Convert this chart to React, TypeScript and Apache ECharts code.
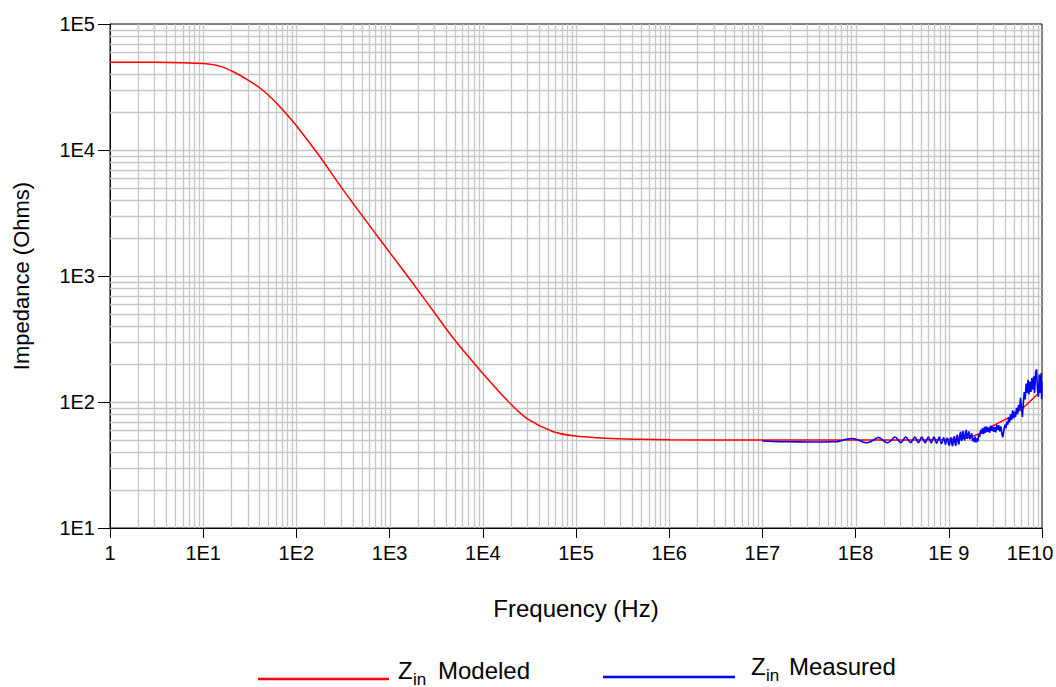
import React, { useEffect, useRef } from "react";
import * as echarts from "echarts";

const xTickLabels = ["1", "1E1", "1E2", "1E3", "1E4", "1E5", "1E6", "1E7", "1E8", "1E 9", "1E10"];
const yTickLabels = ["1E1", "1E2", "1E3", "1E4", "1E5"];

const xTitle = "Frequency (Hz)";
const yTitle = "Impedance (Ohms)";

// Z_in Modeled: [frequency Hz, impedance Ohms]
const modeled: [number, number][] = [
  [1, 49700], [3, 49600], [6, 49300], [10, 48500], [15, 46300], [21, 41800],
  [30, 36000], [41, 30900], [55, 25500], [72, 20700], [100, 15600], [180, 8800],
  [316, 4850], [1000, 1540], [1730, 900], [3160, 490], [5000, 310], [9330, 179],
  [1.96e4, 97.7], [2.96e4, 74.3], [5.7e4, 58.1], [9.35e4, 54.0], [2.13e5, 51.5],
  [4.86e5, 50.6], [1e6, 50.2], [1e7, 50.0], [1e8, 50.0], [1e9, 50.5],
  [1.5e9, 51.8], [2e9, 55], [2.8e9, 63], [3.5e9, 69], [5e9, 79], [7e9, 97], [1e10, 125],
];

// Z_in Measured, low-frequency part (smooth ripple)
const measuredLow: [number, number][] = [
  [1.0e7, 49.0], [1.3e7, 48.6], [2e7, 48.3], [3e7, 48.2], [4.5e7, 48.2], [6e7, 48.3],
  [7e7, 49.3], [8e7, 50.6], [9.1e7, 51.3], [1.0e8, 50.9], [1.12e8, 49.2], [1.3e8, 47.5],
  [1.45e8, 48.3], [1.6e8, 50.6], [1.75e8, 52.2], [1.95e8, 50.0], [2.2e8, 47.5],
  [2.42e8, 49.8], [2.65e8, 52.8], [2.85e8, 50.2], [3.05e8, 47.5], [3.25e8, 50.0],
  [3.44e8, 52.8], [3.67e8, 50.0], [3.9e8, 47.6], [4.1e8, 50.0], [4.33e8, 52.8],
  [4.52e8, 50.2], [4.72e8, 47.6], [4.92e8, 50.0], [5.12e8, 52.8], [5.35e8, 50.0],
  [5.57e8, 47.6], [5.8e8, 50.0], [6.03e8, 52.8], [6.25e8, 50.0], [6.48e8, 47.4],
  [6.7e8, 50.0], [6.93e8, 52.8], [7.4e8, 47.2], [7.9e8, 52.6], [8.34e8, 46.8], [8.78e8, 52.4],
];

// Z_in Measured, high-frequency part (noisy)
const measuredHigh: [number, number][] = [
  [8.78e8, 52.4], [9.0e8, 49.0], [9.22e8, 46.0], [9.45e8, 50.5], [9.66e8, 52.0], [9.9e8, 47.0],
  [1.01e9, 45.0], [1.03e9, 49.5], [1.055e9, 52.5], [1.075e9, 46.5], [1.1e9, 44.6], [1.12e9, 51.0],
  [1.145e9, 53.5], [1.165e9, 47.0], [1.19e9, 45.0], [1.21e9, 52.5], [1.235e9, 55.0], [1.26e9, 47.5],
  [1.285e9, 46.0], [1.31e9, 54.5], [1.34e9, 58.0], [1.365e9, 49.0], [1.39e9, 50.5], [1.42e9, 59.0],
  [1.45e9, 52.0], [1.48e9, 49.5], [1.51e9, 57.5], [1.54e9, 60.0], [1.575e9, 51.0], [1.61e9, 55.0],
  [1.645e9, 58.5], [1.68e9, 50.5], [1.72e9, 54.0], [1.76e9, 56.5], [1.8e9, 49.0], [1.84e9, 52.0],
  [1.88e9, 48.0], [1.92e9, 53.0], [1.96e9, 47.8], [2.0e9, 51.5], [2.05e9, 48.5], [2.1e9, 55.0],
  [2.15e9, 53.0], [2.2e9, 60.0], [2.25e9, 56.0], [2.3e9, 62.0], [2.36e9, 55.5], [2.42e9, 63.5],
  [2.48e9, 57.0], [2.54e9, 64.0], [2.6e9, 58.0], [2.67e9, 62.5], [2.74e9, 57.0], [2.81e9, 65.0],
  [2.88e9, 59.0], [2.95e9, 64.0], [3.03e9, 58.0], [3.11e9, 63.0], [3.19e9, 57.5], [3.27e9, 66.0],
  [3.35e9, 60.0], [3.44e9, 65.5], [3.53e9, 58.5], [3.62e9, 64.0], [3.71e9, 56.0], [3.8e9, 52.5],
  [3.9e9, 60.0], [4.0e9, 66.0], [4.1e9, 62.0], [4.2e9, 70.0], [4.3e9, 66.0], [4.4e9, 76.0],
  [4.5e9, 69.0], [4.6e9, 80.0], [4.72e9, 72.0], [4.84e9, 86.0], [4.96e9, 74.0], [5.08e9, 84.0],
  [5.2e9, 76.0], [5.33e9, 90.0], [5.46e9, 80.0], [5.6e9, 95.0], [5.74e9, 86.0], [5.88e9, 108.0],
  [6.02e9, 90.0], [6.16e9, 76.0], [6.3e9, 98.0], [6.45e9, 120.0], [6.6e9, 105.0], [6.76e9, 140.0],
  [6.92e9, 118.0], [7.08e9, 150.0], [7.25e9, 115.0], [7.42e9, 145.0], [7.6e9, 120.0], [7.78e9, 155.0],
  [7.96e9, 125.0], [8.15e9, 160.0], [8.34e9, 118.0], [8.54e9, 172.0], [8.74e9, 182.0], [8.95e9, 125.0],
  [9.15e9, 110.0], [9.37e9, 165.0], [9.6e9, 118.0], [9.8e9, 170.0], [9.9e9, 105.0], [1.0e10, 145.0],
];

const X_MIN = 1;
const X_MAX = 1e10;
const Y_MIN = 10;
const Y_MAX = 1e5;

const FONT = "'Liberation Sans', Arial, sans-serif";

function buildGridValues(minExp: number, maxExp: number): number[] {
  const out: number[] = [];
  for (let e = minExp; e < maxExp; e++) {
    for (let k = 1; k <= 9; k++) {
      if (e === minExp && k === 1) continue;
      out.push(k * Math.pow(10, e));
    }
  }
  return out;
}

export default function App() {
  const ref = useRef<HTMLDivElement>(null);

  useEffect(() => {
    if (!ref.current) return;
    const chart = echarts.init(ref.current, undefined, { renderer: "svg" });

    const gridX = buildGridValues(0, 10).map((v) => [v, Y_MIN]);
    const gridY = buildGridValues(1, 5).map((v) => [X_MIN, v]);
    const gridColor = "#c6c6c6";
    const lastIdx = xTickLabels.length - 1;

    const option: any = {
      animation: false,
      backgroundColor: "#ffffff",
      grid: {
        left: 110,
        right: 14,
        top: 24,
        bottom: 159,
        containLabel: false,
        outerBoundsMode: "none",
        show: true,
        borderColor: "#000",
        borderWidth: 1,
        backgroundColor: "transparent",
      },
      xAxis: {
        type: "log",
        logBase: 10,
        min: X_MIN,
        max: X_MAX,
        interval: 1,
        name: xTitle,
        nameLocation: "middle",
        nameGap: 68,
        nameTextStyle: { fontFamily: FONT, fontSize: 24, color: "#000" },
        axisLine: { show: true, lineStyle: { color: "#000", width: 1 } },
        axisTick: { show: true, inside: false, length: 10, lineStyle: { color: "#000", width: 1 } },
        axisLabel: {
          fontFamily: FONT,
          fontSize: 20,
          color: "#000",
          margin: 15,
          showMinLabel: true,
          showMaxLabel: true,
          hideOverlap: false,
          interval: 0,
          formatter: (v: number) => {
            const i = Math.round(Math.log10(v));
            const t = xTickLabels[i] ?? "";
            return i === lastIdx ? "{last|" + t + "}" : t;
          },
          rich: {
            last: { fontFamily: FONT, fontSize: 20, color: "#000", padding: [0, 24, 0, 0] },
          },
        },
        splitLine: { show: false },
        minorTick: { show: false },
      },
      yAxis: {
        type: "log",
        logBase: 10,
        min: Y_MIN,
        max: Y_MAX,
        interval: 1,
        name: yTitle,
        nameLocation: "middle",
        nameRotate: 90,
        nameGap: 78,
        nameTextStyle: { fontFamily: FONT, fontSize: 22, color: "#000" },
        axisLine: { show: true, lineStyle: { color: "#000", width: 1 } },
        axisTick: { show: true, inside: false, length: 12, lineStyle: { color: "#000", width: 1 } },
        axisLabel: {
          fontFamily: FONT,
          fontSize: 20,
          color: "#000",
          margin: 15,
          formatter: (v: number) => yTickLabels[Math.round(Math.log10(v)) - 1] ?? "",
        },
        splitLine: { show: false },
        minorTick: { show: false },
      },
      series: [
        {
          type: "custom",
          name: "gridX",
          silent: true,
          z: 1,
          data: gridX,
          renderItem: (_p: any, api: any) => {
            const v = api.value(0);
            const a = api.coord([v, Y_MAX]);
            const b = api.coord([v, Y_MIN]);
            const x = Math.round(a[0]) + 0.5;
            return {
              type: "line",
              shape: { x1: x, y1: a[1], x2: x, y2: b[1] },
              style: { stroke: gridColor, lineWidth: 1.3 },
            };
          },
        },
        {
          type: "custom",
          name: "gridY",
          silent: true,
          z: 1,
          data: gridY,
          renderItem: (_p: any, api: any) => {
            const v = api.value(1);
            const a = api.coord([X_MIN, v]);
            const b = api.coord([X_MAX, v]);
            const y = Math.round(a[1]) + 0.5;
            return {
              type: "line",
              shape: { x1: a[0], y1: y, x2: b[0], y2: y },
              style: { stroke: gridColor, lineWidth: 1.3 },
            };
          },
        },
        {
          type: "line",
          name: "Zin Modeled",
          data: modeled,
          smooth: 0.3,
          showSymbol: false,
          symbol: "none",
          z: 3,
          lineStyle: { color: "#ff0000", width: 1.5 },
        },
        {
          type: "line",
          name: "Zin Measured",
          data: measuredLow,
          smooth: 0.4,
          showSymbol: false,
          symbol: "none",
          z: 4,
          lineStyle: { color: "#0000ff", width: 1.6 },
        },
        {
          type: "line",
          name: "Zin Measured (hf)",
          data: measuredHigh,
          smooth: false,
          showSymbol: false,
          symbol: "none",
          z: 4,
          lineStyle: { color: "#0000ff", width: 1.6 },
        },
      ],
      graphic: [
        { type: "line", shape: { x1: 258, y1: 679, x2: 389, y2: 679 }, style: { stroke: "#ff0000", lineWidth: 2.5 } },
        { type: "text", x: 398, y: 670, style: { text: "Z", fontFamily: FONT, fontSize: 24, fill: "#000", verticalAlign: "middle" } },
        { type: "text", x: 413, y: 679, style: { text: "in", fontFamily: FONT, fontSize: 17, fill: "#000", verticalAlign: "middle" } },
        { type: "text", x: 438, y: 670, style: { text: "Modeled", fontFamily: FONT, fontSize: 24, fill: "#000", verticalAlign: "middle" } },
        { type: "line", shape: { x1: 603, y1: 677, x2: 735, y2: 677 }, style: { stroke: "#0000ff", lineWidth: 2.5 } },
        { type: "text", x: 751, y: 666, style: { text: "Z", fontFamily: FONT, fontSize: 24, fill: "#000", verticalAlign: "middle" } },
        { type: "text", x: 766, y: 675, style: { text: "in", fontFamily: FONT, fontSize: 17, fill: "#000", verticalAlign: "middle" } },
        { type: "text", x: 789, y: 666, style: { text: "Measured", fontFamily: FONT, fontSize: 24, fill: "#000", verticalAlign: "middle" } },
      ],
    };

    chart.setOption(option);
    return () => chart.dispose();
  }, []);

  return (
    <div
      ref={ref}
      style={{ position: "absolute", left: 0, top: 0, width: 1056, height: 687, background: "#fff" }}
    />
  );
}
